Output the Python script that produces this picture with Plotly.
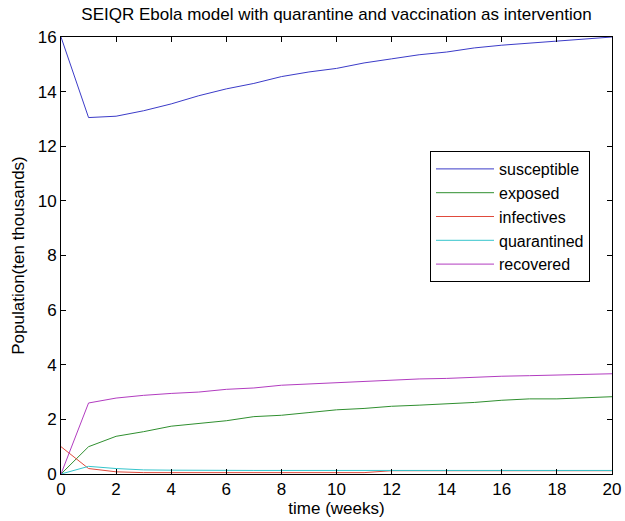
import plotly.graph_objects as go

weeks = list(range(21))
susceptible = [16.0, 13.05, 13.1, 13.3, 13.55, 13.85, 14.1, 14.3, 14.55, 14.72, 14.85,
               15.05, 15.2, 15.35, 15.45, 15.6, 15.7, 15.78, 15.85, 15.92, 16.0]
exposed = [0.0, 1.0, 1.38, 1.55, 1.75, 1.85, 1.95, 2.1, 2.15, 2.25, 2.35,
           2.4, 2.48, 2.52, 2.57, 2.62, 2.7, 2.75, 2.75, 2.8, 2.83]
infectives = [1.0, 0.2, 0.08, 0.05, 0.05, 0.05, 0.05, 0.05, 0.05, 0.05, 0.05,
              0.05, 0.12, 0.12, 0.12, 0.12, 0.12, 0.12, 0.12, 0.12, 0.12]
quarantined = [0.0, 0.28, 0.2, 0.15, 0.14, 0.13, 0.13, 0.13, 0.13, 0.13, 0.13,
               0.13, 0.13, 0.13, 0.13, 0.13, 0.13, 0.13, 0.13, 0.13, 0.13]
recovered = [0.0, 2.6, 2.78, 2.88, 2.95, 3.0, 3.1, 3.15, 3.25, 3.3, 3.35,
             3.4, 3.45, 3.48, 3.5, 3.55, 3.58, 3.6, 3.62, 3.63, 3.67]

series = [
    ("susceptible", susceptible, "#3b3bc8"),
    ("exposed", exposed, "#2f8f2f"),
    ("infectives", infectives, "#e04a3c"),
    ("quarantined", quarantined, "#35c5cc"),
    ("recovered", recovered, "#b23cc0"),
]

fig = go.Figure()
for name, vals, col in series:
    fig.add_trace(go.Scatter(x=weeks, y=vals, mode="lines", name=name,
                             line=dict(color=col, width=1)))

FAM = "Liberation Sans, Arial, sans-serif"
font = dict(family=FAM, size=17, color="black")
axis_common = dict(showline=True, linecolor="black", linewidth=1, mirror="ticks",
                   ticks="inside", ticklen=5, tickcolor="black", showgrid=False,
                   zeroline=False, tickfont=font, automargin=False)

fig.update_layout(
    width=625, height=521,
    margin=dict(l=61, r=13, t=37, b=47),
    paper_bgcolor="white", plot_bgcolor="white",
    font=font,
    title=dict(text="SEIQR Ebola model with quarantine and vaccination as intervention",
               x=(61 + 612) / 2 / 625, xanchor="center", y=1 - 14 / 521, yanchor="middle",
               font=dict(family=FAM, size=17, color="black")),
    xaxis=dict(range=[0, 20], tickvals=list(range(0, 21, 2)),
               title=dict(text="time (weeks)", standoff=2, font=font), **axis_common),
    yaxis=dict(range=[0, 16], tickvals=list(range(0, 17, 2)),
               title=dict(text="Population(ten thousands)", standoff=8, font=font), **axis_common),
    legend=dict(x=(430 - 61) / 551, y=(474 - 151) / 437, xanchor="left", yanchor="top",
                bordercolor="black", borderwidth=1, bgcolor="white",
                font=dict(family=FAM, size=16, color="black"), tracegroupgap=0,
                itemwidth=58),
    showlegend=True,
)

fig.write_html("out.html")
